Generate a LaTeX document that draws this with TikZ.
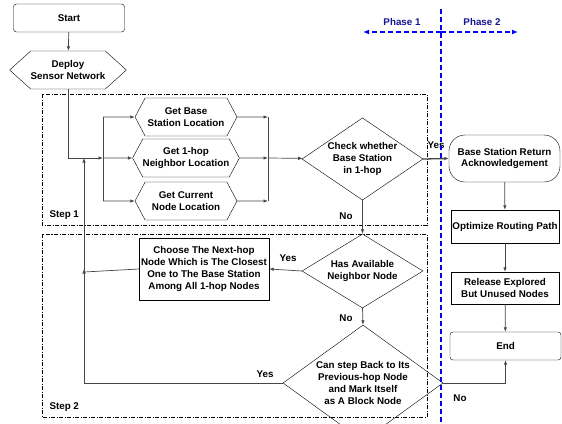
\documentclass[tikz,border=0pt]{standalone}
\usepackage{fontspec}
\setmainfont{Liberation Sans}
\usetikzlibrary{arrows.meta}
\usetikzlibrary{shapes.geometric}
\usetikzlibrary{shapes.symbols}

\definecolor{phaseblue}{RGB}{0,0,255}
\definecolor{phasetext}{RGB}{20,20,150}
\definecolor{linkgray}{RGB}{70,70,70}

\tikzset{
  every node/.style={font=\bfseries\fontsize{9.8}{11.7}\selectfont, align=center},
  roundbox/.style={draw, rounded corners=3pt, minimum width=111pt, minimum height=28pt, inner sep=0pt},
  plainbox/.style={draw, minimum width=108pt, inner sep=0pt},
  hexbox/.style={draw, signal, signal to=west and east, signal pointer angle=#1, minimum height=38pt, inner sep=0pt},
  decision/.style={draw, diamond, inner sep=-5pt},
  link/.style={draw=linkgray, line width=0.7pt},
  stepframe/.style={line width=0.6pt, dash pattern=on 4pt off 1.5pt on 1pt off 1.5pt},
  phaseline/.style={phaseblue, line width=1.2pt, dash pattern=on 5pt off 3pt},
  phasetip/.style={-{Latex[length=6pt,width=5pt]}, solid}
}

\begin{document}
\begin{tikzpicture}[x=1pt, y=-1pt, >={Latex[length=4.5pt,width=3.5pt]}]
\useasboundingbox (0,0) rectangle (562,423);

% step frames
\draw[stepframe] (42,94) rectangle (427,225);
\draw[stepframe] (42,234) rectangle (427,417);
\node[anchor=west] (step1) at (46,215) {Step 1};
\node[anchor=west] (step2) at (46,407) {Step 2};

% phase 1
\node[roundbox] (start) at (69,18) {Start};
\node[hexbox=84, minimum width=107pt] (deploy) at (68,70) {Deploy\\Sensor Network};
\node[hexbox=124, minimum width=102pt] (base) at (186,117) {Get Base\\Station Location};
\node[hexbox=124, minimum width=102pt] (nbr) at (186,158) {Get 1-hop\\Neighbor Location};
\node[hexbox=124, minimum width=102pt] (cur) at (186,201) {Get Current\\Node Location};
\node[decision, minimum width=121pt, minimum height=74pt] (check) at (362.5,159) {Check whether\\Base Station\\in 1-hop};
\node[decision, minimum width=121pt, minimum height=74pt] (has) at (362.5,271) {Has Available\\Neighbor Node};
\node[draw, minimum width=130pt, minimum height=62pt, inner sep=0pt] (choose) at (204,269) {Choose The Next-hop\\Node Which is The Closest\\One to The Base Station\\Among All 1-hop Nodes};
\node[decision, minimum width=160pt, minimum height=102pt] (back) at (363,383) {Can step Back to Its\\Previous-hop Node\\and Mark Itself\\as A Block Node};

% phase 2
\node[draw, rounded corners=16pt, minimum width=111pt, minimum height=47pt, inner sep=0pt] (ret) at (504.5,158.5) {Base Station Return\\Acknowledgement};
\node[plainbox, minimum height=33pt] (opt) at (505,226.5) {Optimize Routing Path};
\node[plainbox, minimum height=32pt] (rel) at (505,288) {Release Explored\\But Unused Nodes};
\node[roundbox] (end) at (505.5,346) {End};

% links
\coordinate (fork) at (103,158);
\coordinate (merge) at (268,158);
\coordinate (loop) at (84,272);
\draw[link,->] (start) -- (deploy);
\draw[link,->] (deploy.south) |- (fork);
\draw[link] (fork |- base) -- (fork |- cur);
\draw[link,->] (fork |- base) -- (base);
\draw[link,->] (fork) -- (nbr);
\draw[link,->] (fork |- cur) -- (cur);
\draw[link] (merge |- base) -- (merge |- cur);
\draw[link,->] (base) -- (merge |- base);
\draw[link,->] (nbr) -- (merge);
\draw[link,->] (cur) -- (merge |- cur);
\draw[link,->] (merge) -- (check);
\draw[link,->, line width=1.3pt] (check.east) -- (ret.west);
\draw[link,->] (check.south) -- (has.north);
\draw[link,->] (has.west) -- (choose.east);
\draw[link,->] (has.south) -- (back.north);
\draw[link,->] (back.west) -| ([yshift=3pt]loop);
\draw[link] (choose.west) -- (loop);
\draw[link,->] (loop) -- (loop |- fork);
\draw[link,->] (back.east) -| (end.south);
\draw[link,->] (ret) -- (opt);
\draw[link,->] (opt) -- (rel);
\draw[link,->] (rel) -- (end);

% link labels
\node (yes1) at (436,145) {Yes};
\node (no1) at (346,216) {No};
\node (yes2) at (288,258) {Yes};
\node (no2) at (346,318) {No};
\node (yes3) at (265,374) {Yes};
\node (no3) at (460,398) {No};

% phase split
\coordinate (split) at (441,32);
\draw[phaseline] (441,9) -- (441,423);
\draw[phaseline] (split) -- (368,32);
\draw[phaseline] (split) -- (513,32);
\draw[phaseblue, line width=1.2pt, phasetip] (369,32) -- (363,32);
\draw[phaseblue, line width=1.2pt, phasetip] (512,32) -- (518,32);
\node[text=phasetext] (ph1) at (402,22) {Phase 1};
\node[text=phasetext] (ph2) at (482,22) {Phase 2};
\end{tikzpicture}
\end{document}
